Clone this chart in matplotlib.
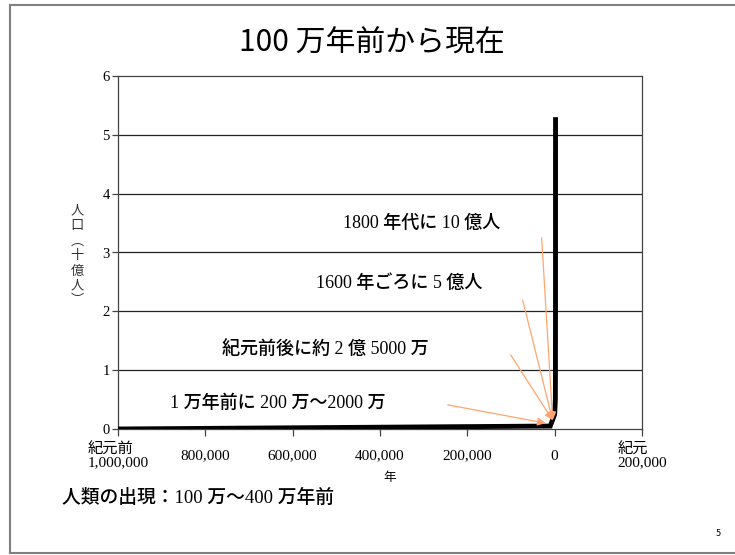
import matplotlib.pyplot as plt
from matplotlib.lines import Line2D

# 人口の推移（単位: 十億人）
nen = [-1000000, -10000, 1, 1600, 1800, 1930, 1960, 1975, 1990]
jinko = [0.0, 0.05, 0.25, 0.5, 1.0, 2.0, 3.0, 4.0, 5.3]

x_ticks = [-1000000, -800000, -600000, -400000, -200000, 0, 200000]
x_labels = ['紀元前\n1,000,000', '800,000', '600,000', '400,000', '200,000', '0', '紀元\n200,000']
y_ticks = [0, 1, 2, 3, 4, 5, 6]

chuki = ['1800 年代に 10 億人', '1600 年ごろに 5 億人',
         '紀元前後に約 2 億 5000 万', '1 万年前に 200 万〜2000 万']

MIX = ['Liberation Serif', 'Noto Sans CJK JP']
GOTH = ['Noto Sans CJK JP', 'DejaVu Sans']

W, H = 735, 555
fig = plt.figure(figsize=(W / 100, H / 100), dpi=100)

# スライドの枠
for xs, ys in [([10, 735], [5, 5]), ([10, 10], [5, 553]), ([10, 735], [553, 553])]:
    fig.add_artist(Line2D([x / W for x in xs], [1 - y / H for y in ys],
                          color='#808080', lw=1.5))

ax = fig.add_axes([118 / W, 1 - 429 / H, (642 - 118) / W, (429 - 76) / H])
ax.set_xlim(-1000000, 200000)
ax.set_ylim(0, 6)

for y in y_ticks[1:-1]:
    ax.axhline(y, color='#222222', lw=0.9, zorder=1)

ax.plot(nen, jinko, color='black', lw=3.5, solid_capstyle='butt',
        solid_joinstyle='miter', zorder=3)

for s in ax.spines.values():
    s.set_color('#444444')
    s.set_linewidth(0.9)

ax.set_yticks(y_ticks)
ax.set_yticklabels([str(v) for v in y_ticks], family='Liberation Serif', fontsize=10.5)
ax.set_xticks(x_ticks)
ax.set_xticklabels(x_labels, family=MIX, fontsize=11, multialignment='left',
                   linespacing=1.0)
for t in ax.get_xticklabels():
    t.set_va('center')
ax.tick_params(axis='y', length=4, width=0.9, pad=2, color='#444444')
ax.tick_params(axis='x', length=5, width=0.9, pad=14.5, color='#444444')

# 注記と矢印
pos_text = [(-485000, 3.49), (-547000, 2.48), (-762000, 1.36), (-882000, 0.44)]
pos_arrow = [((-29800, 3.25), (-4600, 0.15)),
             ((-73300, 2.19), (-4600, 0.15)),
             ((-100800, 1.26), (-4600, 0.15)),
             ((-245000, 0.41), (-20600, 0.10))]
for s, (tx, ty) in zip(chuki, pos_text):
    ax.text(tx, ty, s, family=MIX, fontsize=13, weight='medium', va='center', ha='left', zorder=4)
for start, end in pos_arrow:
    ax.annotate('', xy=end, xytext=start,
                arrowprops=dict(arrowstyle='-|>', color='#ffa46e', lw=0.9,
                                mutation_scale=12, shrinkA=0, shrinkB=0), zorder=5)

fig.text(372 / W, 1 - 43 / H, '100 万年前から現在', family=GOTH, fontsize=21.5,
         ha='center', va='center')
fig.text(77 / W, 1 - 256 / H, '人\n口\n︵\n十\n億\n人\n︶', family=GOTH, fontsize=9.5,
         ha='center', va='center', linespacing=1.2, color='#333333')
fig.text(390 / W, 1 - 477 / H, '年', family=GOTH, fontsize=9, ha='center', va='center')
fig.text(62 / W, 1 - 498 / H, '人類の出現：100 万〜400 万年前', family=MIX, fontsize=13.5,
         weight='medium', ha='left', va='center')
fig.text(718 / W, 1 - 534 / H, '5', family=GOTH, fontsize=6.5, ha='center', va='center')

fig.savefig('out.png', dpi=100)
